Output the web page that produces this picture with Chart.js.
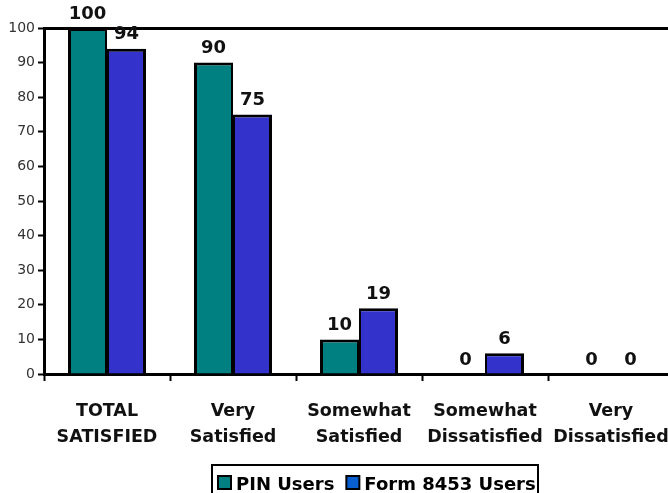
<!DOCTYPE html>
<html>
<head>
<meta charset="utf-8">
<script src="https://cdn.jsdelivr.net/npm/chart.js@4"></script>
<style>
    html, body { margin: 0; padding: 0; background: #fff; overflow: hidden; }
</style>
</head>
<body>
<canvas id="survey-chart" width="674" height="493"></canvas>
<script>
const categories = [["TOTAL", "SATISFIED"], ["Very", "Satisfied"], ["Somewhat", "Satisfied"], ["Somewhat", "Dissatisfied"], ["Very", "Dissatisfied"]];
const pinUsers = [100, 90, 10, 0, 0];
const formUsers = [94, 75, 19, 6, 0];
const yTicks = [0, 10, 20, 30, 40, 50, 60, 70, 80, 90, 100];
const seriesNames = ["PIN Users", "Form 8453 Users"];

const fontName = "'DejaVu Sans', Verdana, sans-serif";

// value labels above every bar
const valueLabels = {
    id: 'valueLabels',
    afterDatasetsDraw(chart) {
        const ctx = chart.ctx;
        ctx.save();
        ctx.font = `bold 18px ${fontName}`;
        ctx.fillStyle = '#111';
        ctx.textAlign = 'center';
        ctx.textBaseline = 'bottom';
        chart.data.datasets.forEach((ds, i) => {
            chart.getDatasetMeta(i).data.forEach((bar, j) => {
                ctx.fillText(ds.data[j], bar.x, bar.y - 5);
            });
        });
        ctx.restore();
    }
};

// boxed legend at the bottom
const boxLegend = {
    id: 'boxLegend',
    afterDraw(chart) {
        const ctx = chart.ctx;
        ctx.save();
        ctx.lineWidth = 2;
        ctx.strokeStyle = '#000';
        ctx.strokeRect(212, 465, 326, 40);
        ctx.font = `bold 18px ${fontName}`;
        ctx.textBaseline = 'alphabetic';
        const swatchColors = ['#008080', '#0a5fd0'];
        let x = 218;
        seriesNames.forEach((name, i) => {
            ctx.fillStyle = swatchColors[i];
            ctx.fillRect(x, 476, 13, 13);
            ctx.strokeRect(x, 476, 13, 13);
            ctx.fillStyle = '#000';
            ctx.fillText(name, x + 18, 490);
            x += 18 + ctx.measureText(name).width + 12;
        });
        ctx.restore();
    }
};

const surveyChart = new Chart(document.getElementById('survey-chart'), {
    type: 'bar',
    data: {
        labels: categories,
        datasets: [
            {
                label: seriesNames[0],
                data: pinUsers,
                backgroundColor: '#008080',
                borderColor: '#000',
                borderWidth: { top: 3, left: 3, right: 2, bottom: 0 },
                inflateAmount: 0,
                categoryPercentage: 78 / 126,
                barPercentage: 1
            },
            {
                label: seriesNames[1],
                data: formUsers,
                backgroundColor: '#3333cc',
                borderColor: '#000',
                borderWidth: { top: 3, left: 2, right: 3, bottom: 0 },
                inflateAmount: 0,
                categoryPercentage: 78 / 126,
                barPercentage: 1
            }
        ]
    },
    options: {
        responsive: false,
        animation: false,
        layout: { padding: { top: 28, right: 0, left: 0, bottom: 0 } },
        plugins: {
            legend: { display: false },
            tooltip: { enabled: false }
        },
        scales: {
            x: {
                offset: true,
                grid: { offset: true, drawOnChartArea: false, tickLength: 7, tickColor: '#000', tickWidth: 2 },
                border: { color: '#000', width: 3 },
                ticks: {
                    color: '#111',
                    padding: 17,
                    maxRotation: 0,
                    autoSkip: false,
                    font: { family: fontName, size: 17.5, weight: 'bold', lineHeight: 1.5 }
                },
                afterFit(scale) {
                    scale.height = 119;
                    scale.paddingLeft = 0;
                    scale.paddingRight = 0;
                }
            },
            y: {
                min: 0,
                max: 100,
                afterBuildTicks(scale) { scale.ticks = yTicks.map(v => ({ value: v })); },
                grid: {
                    color: ctx => ctx.tick && ctx.tick.value === 100 ? '#000' : 'rgba(0,0,0,0)',
                    lineWidth: ctx => ctx.tick && ctx.tick.value === 100 ? 3 : 1,
                    tickColor: '#000',
                    tickWidth: 2,
                    tickLength: 6
                },
                border: { color: '#000', width: 3 },
                ticks: {
                    color: '#333',
                    padding: 3,
                    font: { family: fontName, size: 14 }
                },
                afterFit(scale) { scale.width = 44; }
            }
        }
    },
    plugins: [valueLabels, boxLegend]
});
</script>
</body>
</html>
